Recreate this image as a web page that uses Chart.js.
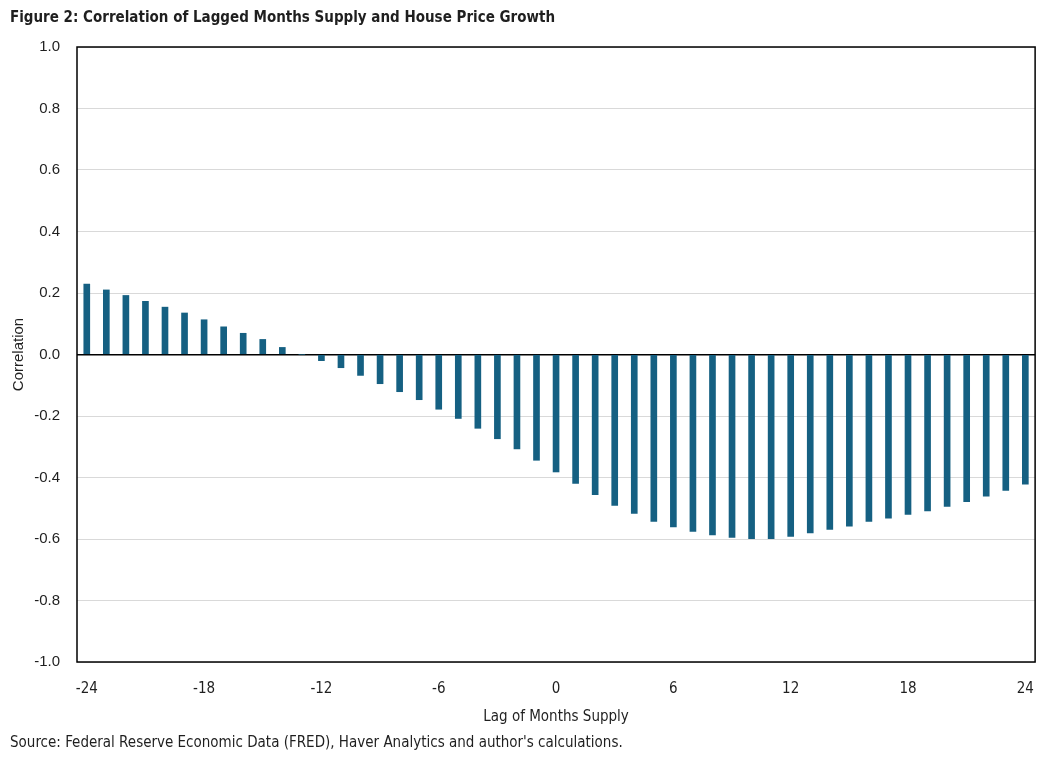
<!DOCTYPE html>
<html lang="en">
<head>
  <meta charset="UTF-8">
  <title>Figure 2: Correlation of Lagged Months Supply and House Price Growth</title>
  <script src="https://cdn.jsdelivr.net/npm/chart.js"></script>
  <style>
    * { margin: 0; padding: 0; box-sizing: border-box; }
    body { background: #fff; width: 1044px; height: 758px; overflow: hidden; }
    .wrap { position: relative; width: 1044px; height: 758px; }
  </style>
</head>
<body>
  <div class="wrap">
    <canvas id="corrChart" width="1044" height="758"></canvas>
  </div>

  <script>
    // lag of months supply, -24 .. 24
    const lags = [-24, -23, -22, -21, -20, -19, -18, -17, -16, -15, -14, -13, -12, -11, -10, -9, -8, -7, -6, -5, -4, -3, -2, -1,
                  0, 1, 2, 3, 4, 5, 6, 7, 8, 9, 10, 11, 12, 13, 14, 15, 16, 17, 18, 19, 20, 21, 22, 23, 24];
    const correlation = [0.229, 0.210, 0.192, 0.173, 0.154, 0.135, 0.113, 0.090, 0.069, 0.049, 0.023, 0.000, -0.020, -0.043,
                         -0.068, -0.095, -0.121, -0.147, -0.178, -0.208, -0.240, -0.274, -0.307, -0.344, -0.382,
                         -0.419, -0.456, -0.491, -0.517, -0.543, -0.561, -0.575, -0.587, -0.595, -0.599, -0.599,
                         -0.592, -0.580, -0.569, -0.558, -0.543, -0.532, -0.520, -0.509, -0.494, -0.479, -0.461, -0.442, -0.422];
    const xTickLabels = [-24, -18, -12, -6, 0, 6, 12, 18, 24];
    const yTicks = [-1.0, -0.8, -0.6, -0.4, -0.2, 0.0, 0.2, 0.4, 0.6, 0.8, 1.0];

    const narrow = "'Liberation Sans Narrow', 'DejaVu Sans Condensed', 'Liberation Sans', sans-serif";
    const regular = "'Liberation Sans', Arial, sans-serif";
    const textColor = "#1f1f1f";

    // box around the plot area like the original
    const frame = {
      id: "frame",
      afterDraw(chart) {
        const a = chart.chartArea, ctx = chart.ctx;
        ctx.save();
        ctx.strokeStyle = "#000";
        ctx.lineWidth = 1.5;
        ctx.strokeRect(a.left, a.top, a.right - a.left, a.bottom - a.top);
        ctx.restore();
      }
    };

    new Chart(document.getElementById("corrChart"), {
      type: "bar",
      data: {
        labels: lags,
        datasets: [{
          label: "Correlation",
          data: correlation,
          backgroundColor: "#156082",
          barThickness: 6
        }]
      },
      options: {
        responsive: false,
        animation: false,
        layout: { padding: { left: 10, right: 8, top: 0, bottom: 0 } },
        plugins: {
          legend: { display: false },
          tooltip: { enabled: false },
          title: {
            display: true,
            text: "Figure 2: Correlation of Lagged Months Supply and House Price Growth",
            align: "start",
            color: textColor,
            font: { family: narrow, size: 15, weight: "bold" },
            padding: { top: 9, bottom: 20 }
          },
          subtitle: {
            display: true,
            position: "bottom",
            text: "Source: Federal Reserve Economic Data (FRED), Haver Analytics and author's calculations.",
            align: "start",
            color: textColor,
            font: { family: narrow, size: 15 },
            padding: { top: 8, bottom: 6 }
          }
        },
        scales: {
          x: {
            type: "category",
            offset: true,
            grid: { display: false },
            border: { display: false },
            ticks: {
              autoSkip: false,
              maxRotation: 0,
              color: textColor,
              font: { family: narrow, size: 15 },
              padding: 10,
              callback(v) {
                const lab = this.getLabelForValue(v);
                return xTickLabels.includes(lab) ? String(lab) : "";
              }
            },
            title: {
              display: true,
              text: "Lag of Months Supply",
              color: textColor,
              font: { family: narrow, size: 15 },
              padding: { top: 0, bottom: 0 }
            }
          },
          y: {
            min: -1,
            max: 1,
            afterBuildTicks(scale) {
              scale.ticks = yTicks.map(v => ({ value: v }));
            },
            afterFit(scale) {
              scale.width = 67;
            },
            grid: {
              drawTicks: false,
              color: ctx => (ctx.tick && Math.abs(ctx.tick.value) < 1e-9) ? "#000" : "#d9d9d9",
              lineWidth: ctx => (ctx.tick && Math.abs(ctx.tick.value) < 1e-9) ? 1.5 : 1
            },
            border: { display: false },
            ticks: {
              color: textColor,
              font: { family: regular, size: 15 },
              padding: 17,
              callback: v => (Math.abs(v) < 1e-9 ? 0 : v).toFixed(1)
            },
            title: {
              display: true,
              text: "Correlation",
              color: textColor,
              font: { family: regular, size: 15 },
              padding: { top: 0, bottom: 8 }
            }
          }
        }
      },
      plugins: [frame]
    });
  </script>
</body>
</html>
